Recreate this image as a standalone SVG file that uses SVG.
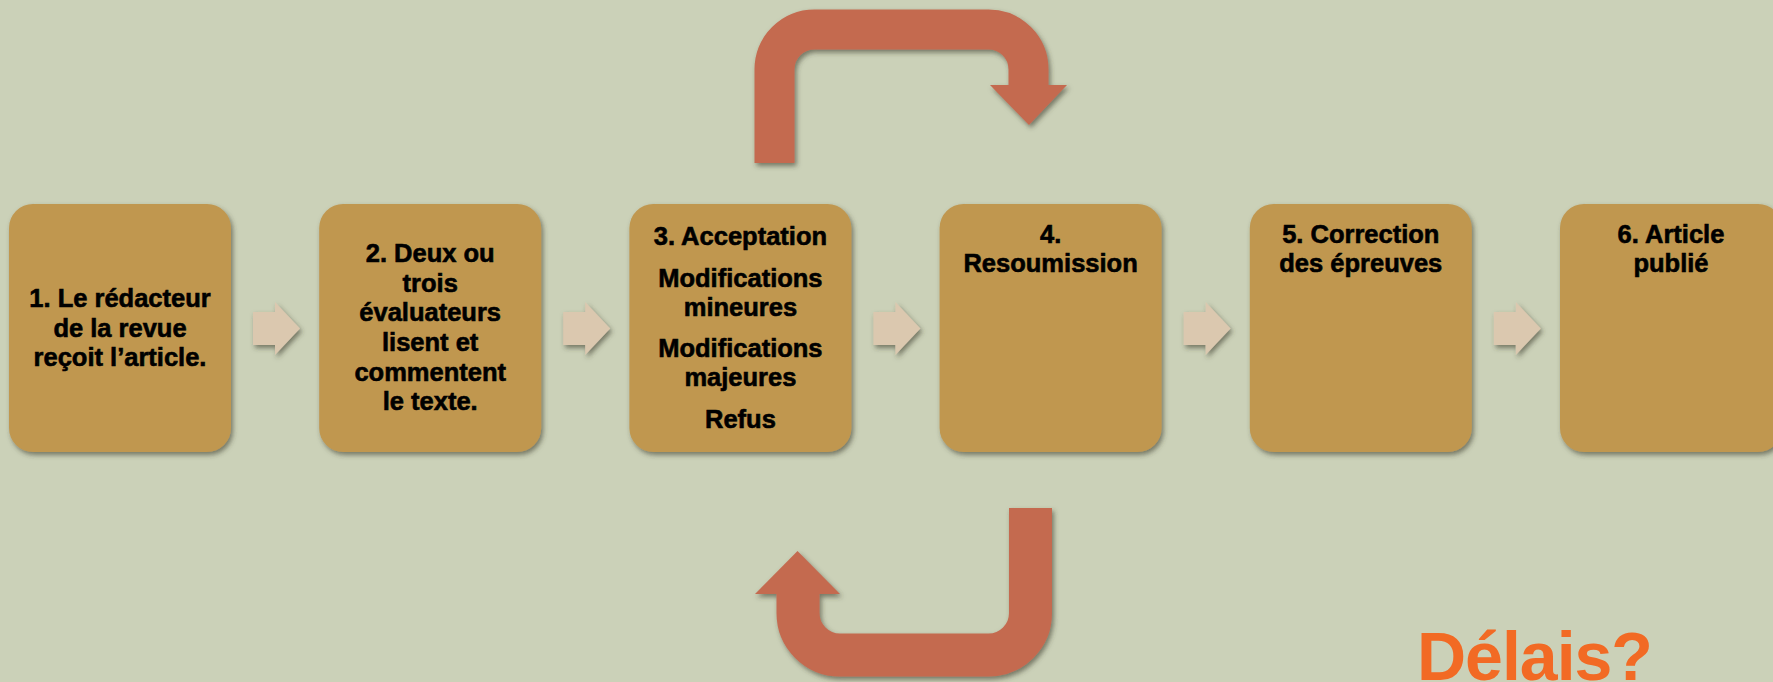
<svg xmlns="http://www.w3.org/2000/svg" width="1773" height="682" viewBox="0 0 1773 682">
<defs>
<filter id="sh" filterUnits="userSpaceOnUse" x="0" y="0" width="1773" height="682">
<feDropShadow dx="2" dy="3" stdDeviation="2.5" flood-color="#3b3a2c" flood-opacity="0.6"/>
</filter>
<style>
.box{fill:#C0974F;filter:url(#sh)}
.t{font-family:"Liberation Sans",Arial,sans-serif;font-weight:bold;font-size:25.5px;fill:#000;stroke:#000;stroke-width:0.6;text-anchor:middle}
.sa{fill:#DBC8AF;filter:url(#sh)}
.big{fill:none;stroke:#C46A50}
.head{fill:#C46A50}
</style>
</defs>
<rect width="1773" height="682" fill="#CBD1B8"/>
<g id="connectors">
<g id="loop-top" filter="url(#sh)">
<path class="big" stroke-width="40" d="M774.5,163 V69.5 A40,40 0 0 1 814.5,29.5 H988.5 A40,40 0 0 1 1028.5,69.5 V86"/>
<polygon class="head" points="990,85 1067,85 1029,125"/>
</g>
<g id="loop-bottom" filter="url(#sh)">
<path class="big" stroke-width="43" d="M1030.5,508 V613 A42,42 0 0 1 988.5,655 H840 A42,42 0 0 1 798,613 V593"/>
<polygon class="head" points="755,594 840,594 797.5,551"/>
</g>
<polygon class="sa" points="253,312 275,312 275,302 300,328.5 275,355 275,345 253,345"/>
<polygon class="sa" transform="translate(310.2,0)" points="253,312 275,312 275,302 300,328.5 275,355 275,345 253,345"/>
<polygon class="sa" transform="translate(620.4,0)" points="253,312 275,312 275,302 300,328.5 275,355 275,345 253,345"/>
<polygon class="sa" transform="translate(930.6,0)" points="253,312 275,312 275,302 300,328.5 275,355 275,345 253,345"/>
<polygon class="sa" transform="translate(1240.8,0)" points="253,312 275,312 275,302 300,328.5 275,355 275,345 253,345"/>
</g>
<g id="n1">
<rect class="box" x="9" y="204" width="222" height="248" rx="24"/>
<text class="t" x="120" y="307">1. Le rédacteur</text>
<text class="t" x="120" y="337">de la revue</text>
<text class="t" x="120" y="366">reçoit l’article.</text>
</g>
<g id="n2">
<rect class="box" x="319.2" y="204" width="222" height="248" rx="24"/>
<text class="t" x="430.2" y="262">2. Deux ou</text>
<text class="t" x="430.2" y="292">trois</text>
<text class="t" x="430.2" y="321">évaluateurs</text>
<text class="t" x="430.2" y="351">lisent et</text>
<text class="t" x="430.2" y="381">commentent</text>
<text class="t" x="430.2" y="410">le texte.</text>
</g>
<g id="n3">
<rect class="box" x="629.4" y="204" width="222" height="248" rx="24"/>
<text class="t" x="740.4" y="245">3. Acceptation</text>
<text class="t" x="740.4" y="287">Modifications</text>
<text class="t" x="740.4" y="316">mineures</text>
<text class="t" x="740.4" y="357">Modifications</text>
<text class="t" x="740.4" y="386">majeures</text>
<text class="t" x="740.4" y="428">Refus</text>
</g>
<g id="n4">
<rect class="box" x="939.6" y="204" width="222" height="248" rx="24"/>
<text class="t" x="1050.6" y="243">4.</text>
<text class="t" x="1050.6" y="272">Resoumission</text>
</g>
<g id="n5">
<rect class="box" x="1249.8" y="204" width="222" height="248" rx="24"/>
<text class="t" x="1360.8" y="243">5. Correction</text>
<text class="t" x="1360.8" y="272">des épreuves</text>
</g>
<g id="n6">
<rect class="box" x="1560" y="204" width="222" height="248" rx="24"/>
<text class="t" x="1671" y="243">6. Article</text>
<text class="t" x="1671" y="272">publié</text>
</g>
<text id="delais" x="1417" y="680" font-family="Liberation Sans, Arial, sans-serif" font-weight="bold" font-size="68" letter-spacing="-1" fill="#F26A24">Délais?</text>
</svg>
